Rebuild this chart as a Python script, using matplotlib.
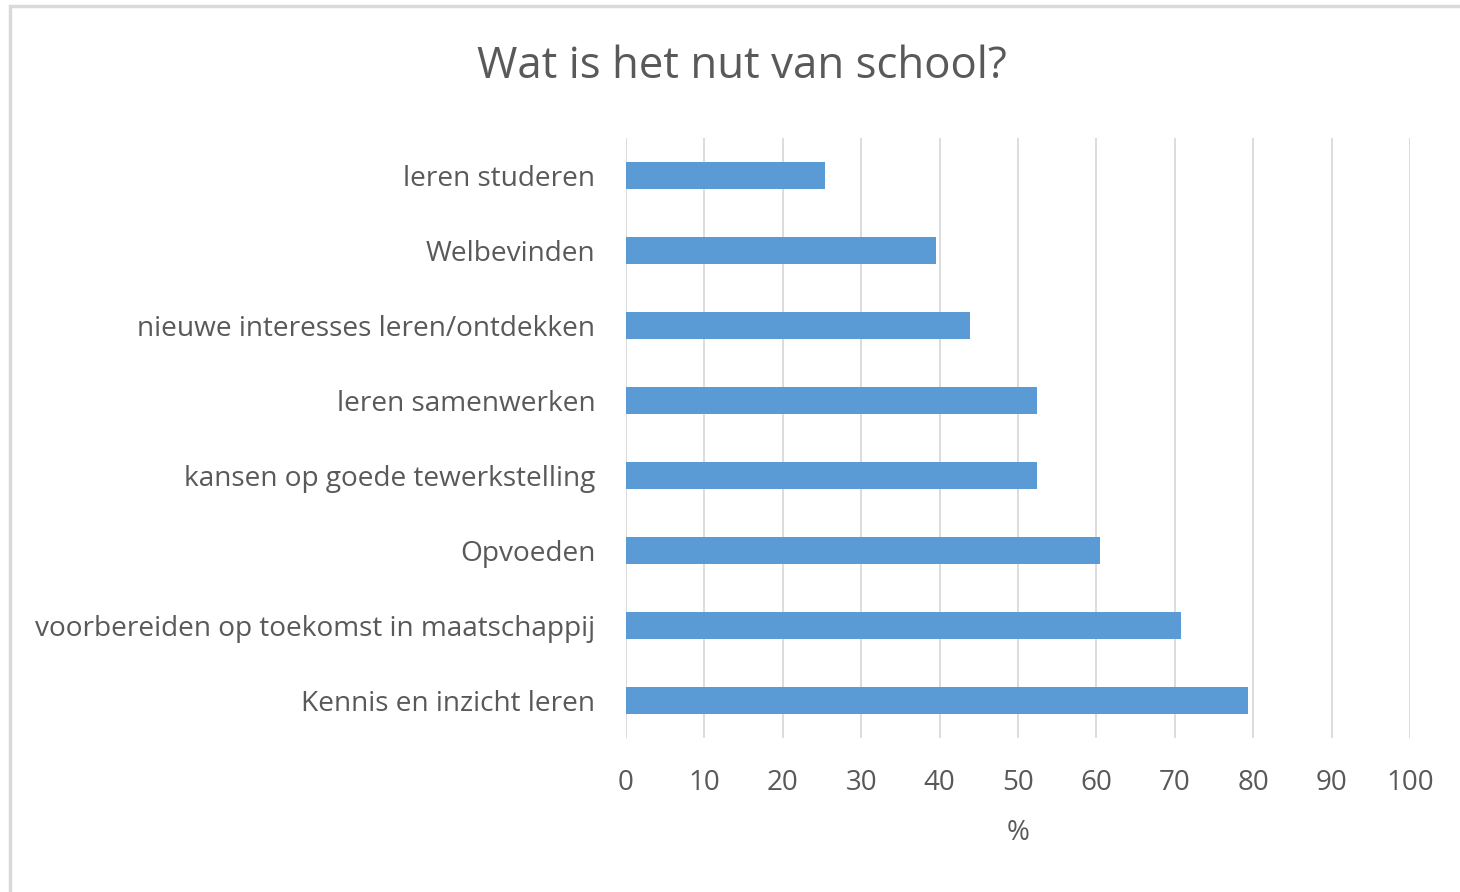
import matplotlib.pyplot as plt
import matplotlib.patches as patches

categories = ['leren studeren', 'Welbevinden', 'nieuwe interesses leren/ontdekken',
              'leren samenwerken', 'kansen op goede tewerkstelling', 'Opvoeden',
              'voorbereiden op toekomst in maatschappij', 'Kennis en inzicht leren']
values = [25.4, 39.6, 43.9, 52.4, 52.4, 60.4, 70.8, 79.4]
xticks = [0, 10, 20, 30, 40, 50, 60, 70, 80, 90, 100]

plt.rcParams['font.family'] = ['Open Sans', 'DejaVu Sans']
grey = '#595959'
grid_col = '#d9d9d9'
bar_col = '#5b9bd5'

fig = plt.figure(figsize=(14.6, 8.92), dpi=100)

# outer chart border (only top/left visible in the reference)
fig.patches.append(patches.Rectangle((10 / 1460, -0.1), 1.2, (892 - 6) / 892 + 0.1,
                                     transform=fig.transFigure, fill=False,
                                     edgecolor=grid_col, linewidth=2.5))

ax = fig.add_axes([626 / 1460, 1 - 738 / 892, (1410 - 626) / 1460, 600 / 892])

ypos = list(range(len(categories)))
ax.barh(ypos, values, height=0.35, color=bar_col, zorder=3)
ax.set_ylim(len(categories) - 0.5, -0.5)
ax.set_xlim(0, 100)
ax.set_xticks(xticks)
ax.set_yticks(ypos)
ax.set_yticklabels(categories)

for x in xticks:
    ax.axvline(x, color=grid_col, linewidth=1.3, zorder=1)

for s in ax.spines.values():
    s.set_visible(False)
ax.tick_params(axis='both', length=0, labelcolor=grey)
ax.tick_params(axis='x', pad=22, labelsize=20)
ax.tick_params(axis='y', pad=22, labelsize=20.2)

ax.set_xlabel('%', fontsize=20, color=grey, labelpad=16)
fig.text(742 / 1460, 1 - 67 / 892, 'Wat is het nut van school?', fontsize=31.5,
         color=grey, ha='center', va='center')

fig.savefig('out.png', dpi=100)
